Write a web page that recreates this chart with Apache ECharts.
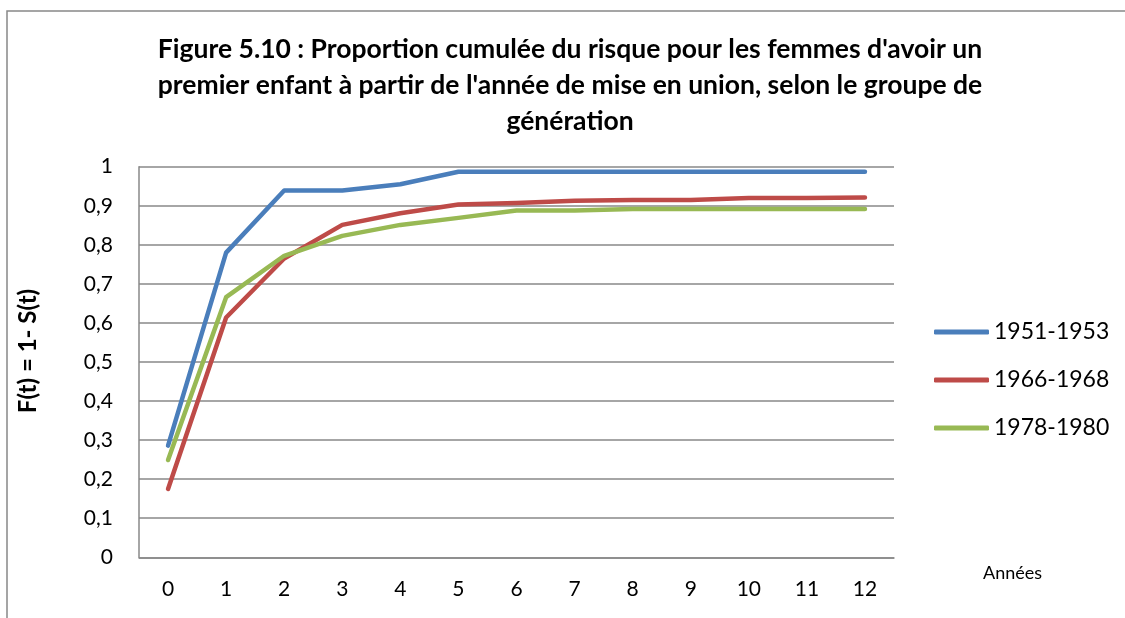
<!DOCTYPE html>
<html>
<head>
<meta charset="utf-8">
<script src="https://cdn.jsdelivr.net/npm/echarts@6/dist/echarts.min.js"></script>
<style>
    html, body { margin: 0; padding: 0; background: #fff; }
    #chart { width: 1125px; height: 618px; }
</style>
</head>
<body>
<div id="chart"></div>
<script>
// annees depuis la mise en union
var annees = ['0', '1', '2', '3', '4', '5', '6', '7', '8', '9', '10', '11', '12'];
var groupes = ['1951-1953', '1966-1968', '1978-1980'];
var g1951 = [0.286, 0.780, 0.939, 0.939, 0.955, 0.987, 0.987, 0.987, 0.987, 0.987, 0.987, 0.987, 0.987];
var g1966 = [0.175, 0.614, 0.765, 0.851, 0.881, 0.903, 0.907, 0.913, 0.915, 0.915, 0.920, 0.920, 0.921];
var g1978 = [0.249, 0.666, 0.772, 0.823, 0.851, 0.869, 0.888, 0.888, 0.892, 0.892, 0.892, 0.892, 0.892];
var couleurs = ['#4a7ebb', '#be4b48', '#98b954'];

function chart_cumul() {
    var myChart = echarts.init(document.getElementById('chart'));
    var valeurs = [g1951, g1966, g1978];
    let series = [];
    for (let i = 0; i < groupes.length; i++) {
        series.push({
            name: groupes[i],
            type: 'line',
            data: valeurs[i],
            symbol: 'none',
            lineStyle: {width: 4.5, color: couleurs[i], cap: 'round', join: 'round'},
            itemStyle: {color: couleurs[i]}
        });
    }

    var option = {
        animation: false,
        textStyle: {fontFamily: 'Lato'},
        title: {
            text: "Figure 5.10 : Proportion cumulée du risque pour les femmes d'avoir un\npremier enfant à partir de l'année de mise en union, selon le groupe de\ngénération",
            left: 565,
            textAlign: 'center',
            top: 26,
            textStyle: {fontFamily: 'Lato', fontSize: 26.5, fontWeight: 'bold', color: '#000', lineHeight: 36}
        },
        graphic: [{
            type: 'rect',
            shape: {x: 7, y: 11, width: 1130, height: 620},
            style: {fill: 'none', stroke: '#888', lineWidth: 1.5},
            silent: true
        }],
        legend: {
            orient: 'vertical',
            left: 934,
            top: 319,
            padding: 0,
            itemWidth: 55,
            itemHeight: 5,
            itemGap: 22,
            icon: 'roundRect',
            textStyle: {fontFamily: 'Lato', fontSize: 23, color: '#000', lineHeight: 26},
            data: groupes
        },
        grid: {
            left: 139,
            right: 231,
            top: 166.7,
            bottom: 60.7
        },
        xAxis: {
            type: 'category',
            data: annees,
            boundaryGap: true,
            name: 'Années',
            nameLocation: 'end',
            nameGap: 89,
            nameTextStyle: {fontFamily: 'Lato', fontSize: 18, color: '#000', verticalAlign: 'top', padding: [7, 0, 0, 0]},
            axisLine: {lineStyle: {color: '#888', width: 1.5}},
            axisTick: {show: false},
            axisLabel: {fontFamily: 'Lato', fontSize: 21, color: '#000', margin: 21}
        },
        yAxis: {
            type: 'value',
            min: 0,
            max: 1,
            interval: 0.1,
            name: 'F(t) = 1- S(t)',
            nameLocation: 'middle',
            nameGap: 99,
            nameTextStyle: {fontFamily: 'Lato', fontSize: 24, fontWeight: 'bold', color: '#000', padding: [0, 0, 0, 22]},
            axisLine: {show: true, lineStyle: {color: '#888', width: 1.5}},
            axisTick: {show: false},
            splitLine: {lineStyle: {color: '#888', width: 1.5}},
            axisLabel: {
                fontFamily: 'Lato', fontSize: 21, color: '#000', margin: 26,
                formatter: function (v) { return String(Math.round(v * 10) / 10).replace('.', ','); }
            }
        },
        series: series
    };
    myChart.setOption(option);
}

chart_cumul();
</script>
</body>
</html>
